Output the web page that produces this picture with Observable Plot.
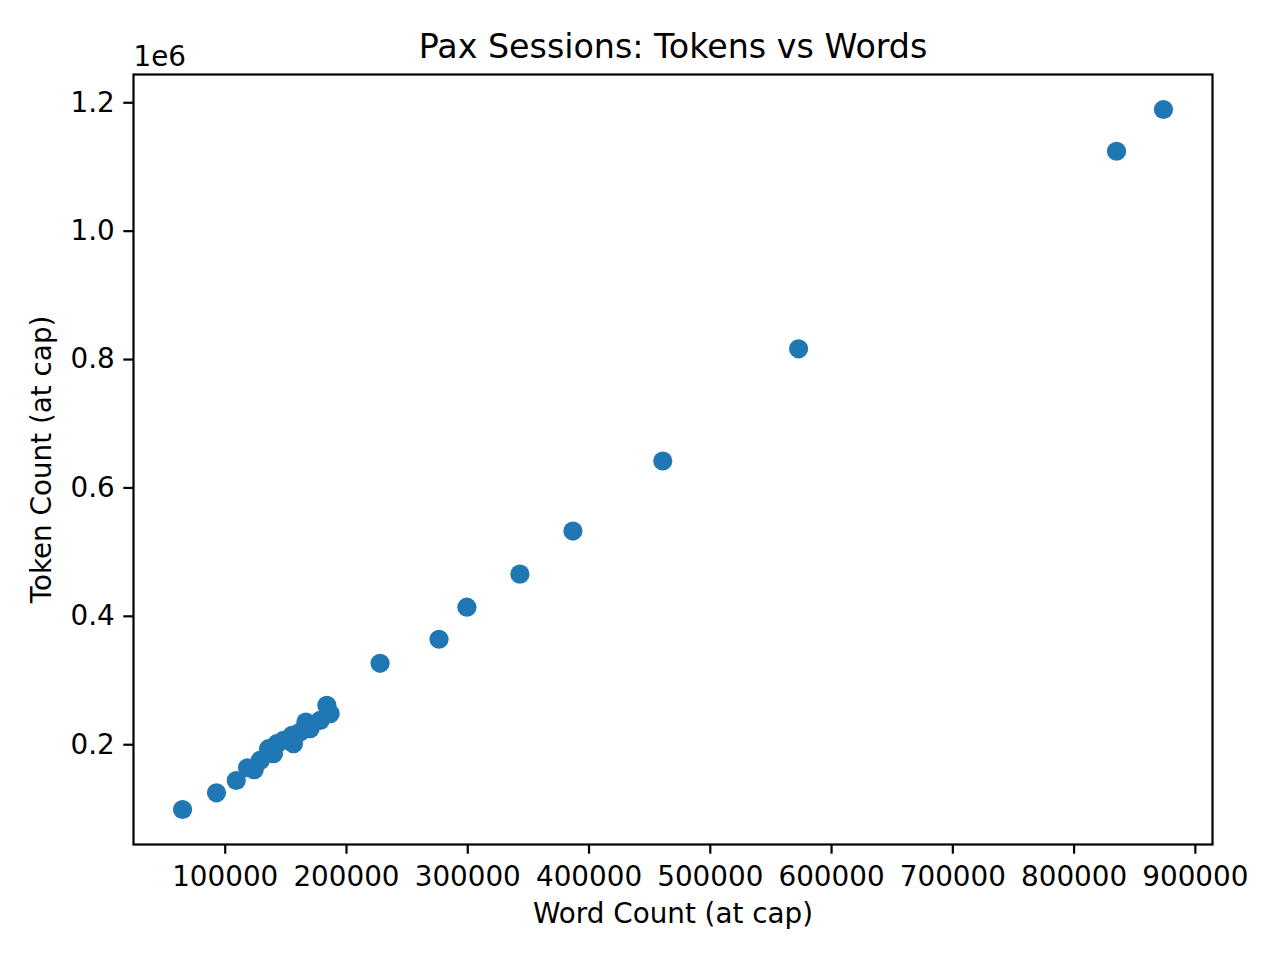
<!DOCTYPE html>
<html>
<head>
<meta charset="utf-8">
<script src="https://cdn.jsdelivr.net/npm/d3@7"></script>
<script src="https://cdn.jsdelivr.net/npm/@observablehq/plot@0.6"></script>
<style>
  html, body { margin: 0; padding: 0; background: #fff; }
  #chart svg { display: block; }
</style>
</head>
<body>
<div id="chart"></div>
<script>
// Data
const wordCount = [
  64800, 92800, 109100, 118400, 123900, 128800, 135700, 139800, 142600, 148000,
  156300, 155000, 161800, 166500, 170000, 178300, 183800, 186500, 227700, 276300,
  299300, 343000, 386700, 460800, 572800, 835000, 873700
];
const tokenCount = [
  99100, 125100, 144300, 164100, 161000, 175500, 193800, 186000, 201600, 206700,
  201600, 214500, 219700, 235300, 225000, 237900, 261300, 248400, 326800, 364300,
  414200, 465700, 532800, 642000, 816700, 1124500, 1189500
];
const xTicks = [100000, 200000, 300000, 400000, 500000, 600000, 700000, 800000, 900000];
const yTicks = [200000, 400000, 600000, 800000, 1000000, 1200000];
const titleText = "Pax Sessions: Tokens vs Words";
const xLabel = "Word Count (at cap)";
const yLabel = "Token Count (at cap)";
const offsetText = "1e6";

const data = wordCount.map((w, i) => ({ words: w, tokens: tokenCount[i] }));

const FS = 27.8;
const chart = Plot.plot({
  width: 1280,
  height: 960,
  marginLeft: 133,
  marginRight: 68,
  marginTop: 74,
  marginBottom: 116,
  style: { fontFamily: "DejaVu Sans, sans-serif", fontSize: FS + "px", color: "black", background: "white" },
  x: { type: "linear", domain: [24355, 914145] },
  y: { type: "linear", domain: [44580, 1244020] },
  marks: [
    Plot.dot(data, { x: "words", y: "tokens", r: 9.6, fill: "#1f77b4", stroke: "none" }),
    Plot.frame({ stroke: "black", strokeWidth: 2.2 }),
    Plot.axisX({ ticks: xTicks, tickFormat: d => String(d), tickSize: 9.7, tickPadding: 12, strokeWidth: 2.2, fontSize: FS, label: null }),
    Plot.axisY({ ticks: yTicks, tickFormat: d => (d / 1e6).toFixed(1), tickSize: 9.7, tickPadding: 9, strokeWidth: 2.2, fontSize: FS, label: null }),
    Plot.text([titleText], { text: d => d, frameAnchor: "top", dy: -27, fontSize: 33.3, textAnchor: "middle", lineAnchor: "middle" }),
    Plot.text([offsetText], { text: d => d, frameAnchor: "top-left", dy: -17, textAnchor: "start", fontSize: FS, lineAnchor: "middle" }),
    Plot.text([xLabel], { text: d => d, frameAnchor: "bottom", dy: 70, fontSize: FS, textAnchor: "middle", lineAnchor: "middle" }),
    Plot.text([yLabel], { text: d => d, frameAnchor: "left", dx: -91, rotate: -90, fontSize: FS, textAnchor: "middle", lineAnchor: "middle" })
  ]
});
document.getElementById("chart").appendChild(chart);
</script>
</body>
</html>
